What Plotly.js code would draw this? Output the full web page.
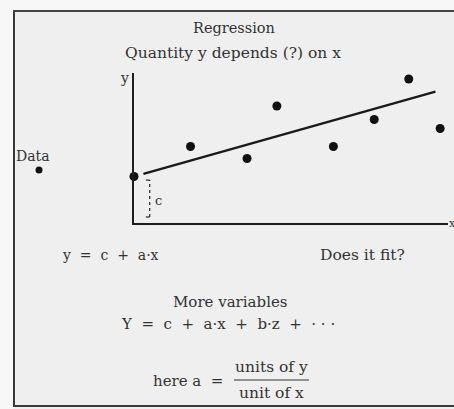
<!DOCTYPE html>
<html>
<head>
<meta charset="utf-8">
<script src="https://cdn.plot.ly/plotly-3.0.1.min.js"></script>
<style>
  html, body { margin: 0; padding: 0; background: #efefef; }
  #chart { width: 454px; height: 409px; }
</style>
</head>
<body>
<div id="chart"></div>
<script>
// Observations (x, y) in the plot's own units
const pointX = [0, 1.8, 3.6, 4.55, 6.35, 7.65, 8.75, 9.75];
const pointY = [1.55, 2.55, 2.15, 3.9, 2.55, 3.45, 4.8, 3.15];

// Fitted straight line y = c + a·x
const fitC = 1.55;
const fitA = 0.295;
const fitX = [0.3, 9.6];
const fitY = fitX.map(x => fitC + fitA * x);

// Texts of the sheet (non-breaking spaces keep the loose typesetting)
const S = '\u00a0';
const titleText = 'Regression';
const subtitleText = 'Quantity y depends (?) on x';
const modelText = 'y' + S + S + '=' + S + S + 'c' + S + S + '+' + S + S + 'a·x';
const questionText = 'Does it fit?';
const moreText = 'More variables';
const multiText = 'Y' + S + S + '=' + S + S + 'c' + S + S + '+' + S + S + 'a·x' + S + S + '+' + S + S +
                  'b·z' + S + S + '+' + S + S + '·' + S + '·' + S + '·';
const slopeLead = 'here' + S + 'a' + S + S + '=';
const slopeNum = 'units of y';
const slopeDen = 'unit of x';
const legendText = 'Data';

const W = 454, H = 409;
const M = { l: 134, r: 6, t: 73, b: 186 };
const PW = W - M.l - M.r, PH = H - M.t - M.b;
// page pixel -> paper fraction
const px = v => (v - M.l) / PW;
const py = v => (H - M.b - v) / PH;

const ink = '#333333';
const font = { family: 'DejaVu Serif, Liberation Serif, serif', size: 13, color: ink };

function label(text, x, y, size, extra) {
  return Object.assign({
    text: text, xref: 'paper', yref: 'paper', x: px(x), y: py(y),
    showarrow: false, xanchor: 'center', yanchor: 'middle',
    font: Object.assign({}, font, size ? { size: size } : {})
  }, extra || {});
}

const traces = [
  {
    type: 'scatter', mode: 'lines', x: fitX, y: fitY,
    line: { color: '#1a1a1a', width: 2.4 }, hoverinfo: 'skip', cliponaxis: false
  },
  {
    type: 'scatter', mode: 'markers', x: pointX, y: pointY,
    marker: { color: '#111', size: 9 }, cliponaxis: false
  }
];

const layout = {
  width: W, height: H,
  margin: M,
  paper_bgcolor: '#efefef',
  plot_bgcolor: 'rgba(0,0,0,0)',
  showlegend: false,
  xaxis: {
    range: [0, 10], showline: true, linecolor: '#1e1e1e', linewidth: 2,
    showgrid: false, zeroline: false, showticklabels: false, ticks: '', fixedrange: true
  },
  yaxis: {
    range: [0, 5], showline: true, linecolor: '#1e1e1e', linewidth: 2,
    showgrid: false, zeroline: false, showticklabels: false, ticks: '', fixedrange: true
  },
  shapes: [
    // lighter margin outside the sheet (left and top strips)
    { type: 'rect', xref: 'paper', yref: 'paper', x0: px(-5), x1: px(13), y0: py(420), y1: py(-5),
      fillcolor: '#f7f7f7', line: { width: 0 }, layer: 'below' },
    { type: 'rect', xref: 'paper', yref: 'paper', x0: px(-5), x1: px(470), y0: py(10), y1: py(-5),
      fillcolor: '#f7f7f7', line: { width: 0 }, layer: 'below' },
    // frame of the sheet (open on the right)
    { type: 'line', xref: 'paper', yref: 'paper', x0: px(14), x1: px(14), y0: py(10), y1: py(407),
      line: { color: '#3a3a3a', width: 2 } },
    { type: 'line', xref: 'paper', yref: 'paper', x0: px(13), x1: px(470), y0: py(11), y1: py(11),
      line: { color: '#444', width: 2 } },
    { type: 'line', xref: 'paper', yref: 'paper', x0: px(13), x1: px(470), y0: py(406), y1: py(406),
      line: { color: '#3a3a3a', width: 2 } },
    // bracket marking the intercept c
    { type: 'line', xref: 'x', yref: 'y', x0: 0.5, x1: 0.5, y0: 0.2, y1: fitC - 0.12,
      line: { color: '#333', width: 1.3, dash: 'dot' } },
    { type: 'line', xref: 'x', yref: 'y', x0: 0.38, x1: 0.5, y0: fitC - 0.12, y1: fitC - 0.12,
      line: { color: '#333', width: 1.3 } },
    { type: 'line', xref: 'x', yref: 'y', x0: 0.38, x1: 0.5, y0: 0.2, y1: 0.2,
      line: { color: '#333', width: 1.3 } },
    // marker beside the "Data" key
    { type: 'circle', xref: 'paper', yref: 'paper', x0: px(35.5), x1: px(42.5), y0: py(166.5), y1: py(173.5),
      fillcolor: '#111', line: { width: 0 } },
    // fraction bar
    { type: 'line', xref: 'paper', yref: 'paper', x0: px(234), x1: px(309), y0: py(380), y1: py(380),
      line: { color: ink, width: 1.2 } }
  ],
  annotations: [
    label(titleText, 234, 28, 14.5),
    label(subtitleText, 233, 53, 15.5),
    label('y', 124, 78, 14),
    label('x', 452, 223, 11),
    label('c', 158, 200, 13),
    label(legendText, 33, 156, 14),
    label(modelText, 110, 255, 14),
    label(questionText, 362, 255, 15.5),
    label(moreText, 230, 302, 15),
    label(multiText, 228, 324, 15),
    label(slopeLead, 188, 381, 15),
    label(slopeNum, 271, 367, 15.5),
    label(slopeDen, 271, 393, 15.5)
  ]
};

Plotly.newPlot('chart', traces, layout, { displayModeBar: false, staticPlot: true });
</script>
</body>
</html>
